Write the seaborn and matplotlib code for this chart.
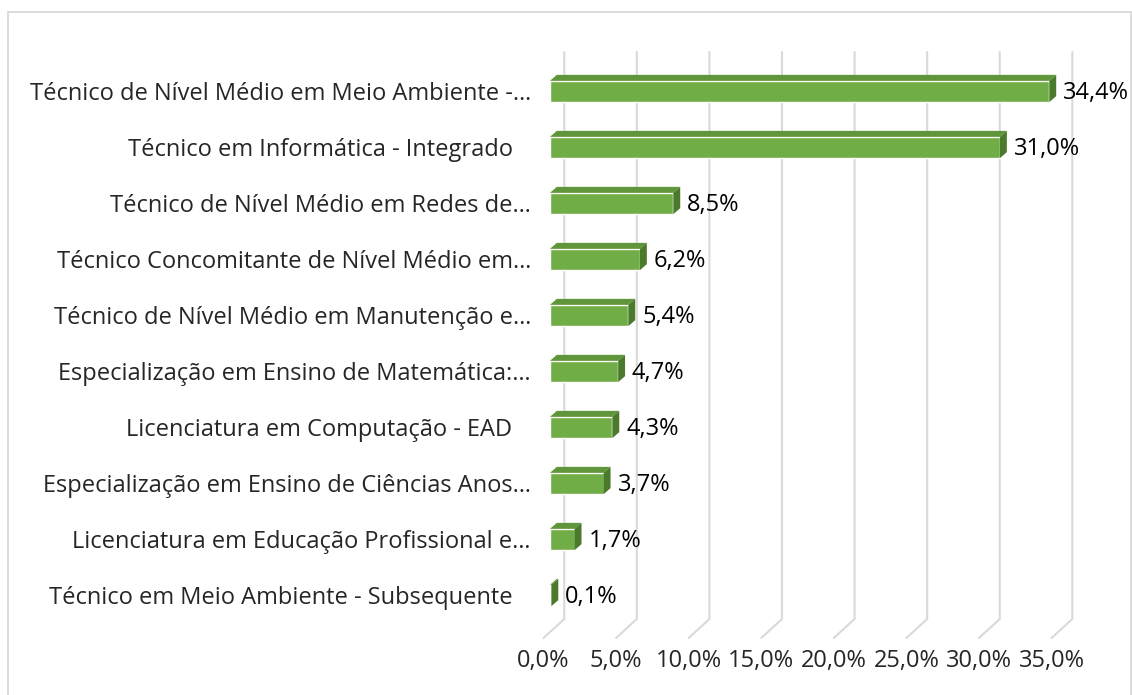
import matplotlib
matplotlib.use("Agg")
import matplotlib.pyplot as plt
from matplotlib.patches import Polygon, Rectangle
import seaborn as sns

# data
courses = [
    "Técnico de Nível Médio em Meio Ambiente -…",
    "Técnico em Informática - Integrado   ",
    "Técnico de Nível Médio em Redes de…",
    "Técnico Concomitante de Nível Médio em…",
    "Técnico de Nível Médio em Manutenção e…",
    "Especialização em Ensino de Matemática:…",
    "Licenciatura em Computação - EAD   ",
    "Especialização em Ensino de Ciências Anos…",
    "Licenciatura em Educação Profissional e…",
    "Técnico em Meio Ambiente - Subsequente   ",
]
pct = [34.4, 31.0, 8.5, 6.2, 5.4, 4.7, 4.3, 3.7, 1.7, 0.1]
xticks = [0, 5, 10, 15, 20, 25, 30, 35]

front = "#70ad47"
top = "#5e9639"
side = "#4b7a2d"
grid = "#d9d9d9"

sns.set_style("white")
plt.rcParams["font.family"] = ["Open Sans", "DejaVu Sans"]
fsize = 17

W, H = 1132, 695
fig = plt.figure(figsize=(W / 100, H / 100), dpi=100)
# axes in pixel terms: left 543.5, right 1058, top 63.5, bottom 623.5
ax_l, ax_r, ax_t, ax_b = 543.5, 1058.0, 63.5, 623.5
ax = fig.add_axes([ax_l / W, (H - ax_b) / H, (ax_r - ax_l) / W, (ax_b - ax_t) / H])

sns.barplot(x=pct, y=courses, orient="h", color=front, width=0.38,
            saturation=1, ax=ax, zorder=3)
ax.set_xlim(0, 35)
ax.set_ylim(len(courses) - 0.5, -0.5)

ux = (ax_r - ax_l) / 35.0          # pixels per percent
uy = (ax_b - ax_t) / len(courses)  # pixels per category

# 3d depth of the bars
dx, dy = 7 / ux, 6 / uy
for p in ax.patches:
    x0, y0 = p.get_x(), p.get_y()
    x1 = x0 + p.get_width()
    yb = y0 + p.get_height()
    ax.add_patch(Polygon([(x0, y0), (x1, y0), (x1 + dx, y0 - dy), (x0 + dx, y0 - dy)],
                         closed=True, facecolor=top, edgecolor="none", zorder=3))
    ax.add_patch(Polygon([(x1, y0), (x1 + dx, y0 - dy), (x1 + dx, yb - dy), (x1, yb)],
                         closed=True, facecolor=side, edgecolor="none", zorder=3))

# back wall gridlines + floor edge
back = 14.5 / ux
frontoff = -6.5 / ux
y_top = -0.5 - (ax_t - 52) / uy
y_wall = len(courses) - 0.5 - (ax_b - 619) / uy
y_floor = len(courses) - 0.5 + (638 - ax_b) / uy
for v in xticks:
    ax.plot([v + back, v + back, v + frontoff], [y_top, y_wall, y_floor],
            color=grid, lw=1.5, zorder=1, clip_on=False, solid_joinstyle="miter")

# value labels
for i, v in enumerate(pct):
    ax.text(v + 14 / ux, i + 0.03, f"{v:.1f}%".replace(".", ","), va="center",
            ha="left", fontsize=fsize, color="#000000", zorder=4)

# x tick labels sit on the front edge of the floor
ax.set_xticks([v + frontoff for v in xticks])
ax.set_xticklabels([f"{v:.1f}%".replace(".", ",") for v in xticks], fontsize=fsize)
ax.tick_params(axis="x", length=0, pad=18)
ax.tick_params(axis="y", length=0, pad=9)
for lab in ax.get_yticklabels():
    lab.set_fontsize(fsize)
ax.set_xlabel("")
ax.set_ylabel("")
sns.despine(ax=ax, left=True, bottom=True)

# light chart border
fig.patches.append(Rectangle((8 / W, -0.1), (W - 9) / W, (H - 12) / H + 0.1,
                             transform=fig.transFigure, fill=False,
                             edgecolor=grid, lw=1.3))

fig.savefig("out.png", dpi=100)
